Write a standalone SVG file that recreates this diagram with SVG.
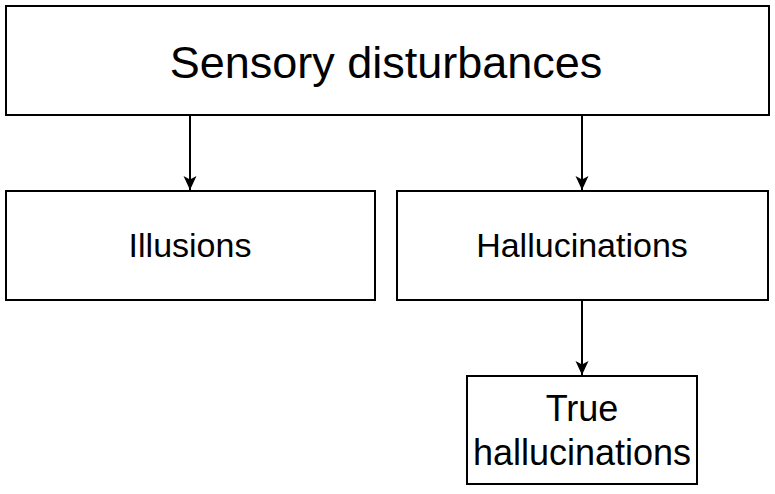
<svg xmlns="http://www.w3.org/2000/svg" width="775" height="494" viewBox="0 0 775 494">
<style>
.box{fill:#fff;stroke:#000;stroke-width:2}
.lbl{font-family:"Liberation Sans",Arial,sans-serif;fill:#000;text-anchor:middle}
.edge{stroke:#000;stroke-width:2;fill:none}
</style>
<defs>
<marker id="arr" markerWidth="16" markerHeight="16" refX="15" refY="8" orient="auto" markerUnits="userSpaceOnUse">
<path d="M1,1.5 L15,8 L1,14.5 L4.5,8 Z" fill="#000"/>
</marker>
</defs>
<rect width="775" height="494" fill="#fff"/>
<g id="connectors">
<line class="edge" x1="190" y1="115" x2="190" y2="190" marker-end="url(#arr)"/>
<line class="edge" x1="582" y1="115" x2="582" y2="190" marker-end="url(#arr)"/>
<line class="edge" x1="582" y1="300" x2="582" y2="375" marker-end="url(#arr)"/>
</g>
<g id="sensory">
<rect class="box" x="6" y="6" width="763" height="109"/>
<text class="lbl" x="386" y="78" font-size="45">Sensory disturbances</text>
</g>
<g id="illusions">
<rect class="box" x="6" y="191" width="369" height="109"/>
<text class="lbl" x="190" y="257" font-size="34">Illusions</text>
</g>
<g id="hallucinations">
<rect class="box" x="397" y="191" width="371" height="109"/>
<text class="lbl" x="582" y="257" font-size="34">Hallucinations</text>
</g>
<g id="true-hallucinations">
<rect class="box" x="467" y="376" width="230" height="108"/>
<text class="lbl" x="582" y="421" font-size="36">True</text>
<text class="lbl" x="582" y="465" font-size="36">hallucinations</text>
</g>
</svg>
